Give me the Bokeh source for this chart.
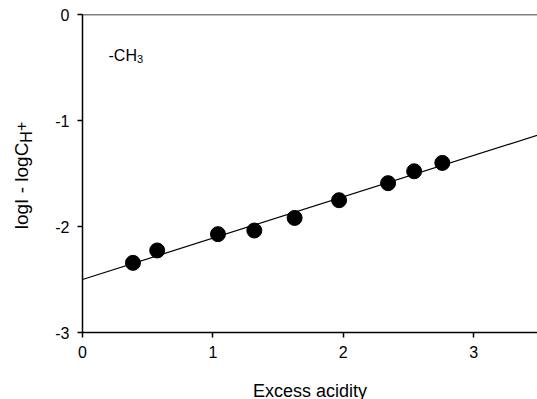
import math
from bokeh.plotting import figure
from bokeh.layouts import row
from bokeh.models import FixedTicker, Span, Label, Range1d
from bokeh.embed import file_html
from bokeh.resources import INLINE

# data
excess_acidity = [0.387, 0.573, 1.039, 1.318, 1.627, 1.968, 2.344, 2.544, 2.760]
log_ratio = [-2.343, -2.226, -2.072, -2.038, -1.919, -1.752, -1.591, -1.479, -1.400]
fit_x = [0.0, 3.5]
fit_y = [-2.5, -1.135]
x_ticks = [0, 1, 2, 3]
y_ticks = [-3, -2, -1, 0]
y_tick_labels = {-3: "-3", -2: "-2", -1: "-1", 0: "0"}

FONT = "Liberation Sans"
LEFT_W = 40

# ---- narrow strip holding the y-axis title ----
t = figure(width=LEFT_W, height=399, x_range=Range1d(0, LEFT_W), y_range=Range1d(399, 0),
           x_axis_type=None, y_axis_type=None, output_backend="svg",
           toolbar_location=None, min_border=0)
t.outline_line_color = None
t.grid.visible = False
t.background_fill_color = "white"
t.border_fill_color = "white"

main_fs, sub_fs = 19, 16
w_main = 4.557 * main_fs
w_h = 0.722 * sub_fs
total = w_main + w_h + 0.584 * sub_fs
start = 175 + total / 2.0
base_x = 21
t.add_layout(Label(x=base_x, y=start, x_units="canvas", y_units="canvas",
                   text="logI - logC", text_font=FONT,
                   text_font_size=f"{main_fs}px", text_color="black", angle=math.pi / 2,
                   text_baseline="alphabetic", text_align="left"))
t.add_layout(Label(x=base_x + 5, y=start - w_main, x_units="canvas", y_units="canvas",
                   text="H", text_font=FONT,
                   text_font_size=f"{sub_fs}px", text_color="black", angle=math.pi / 2,
                   text_baseline="alphabetic", text_align="left"))
t.add_layout(Label(x=base_x - 1, y=start - w_main - w_h, x_units="canvas", y_units="canvas",
                   text="+", text_font=FONT,
                   text_font_size=f"{sub_fs}px", text_color="black", angle=math.pi / 2,
                   text_baseline="alphabetic", text_align="left"))

# ---- main plot ----
p = figure(frame_width=455, frame_height=318,
           x_range=Range1d(0, 3.49), y_range=Range1d(-3, 0),
           output_backend="svg", toolbar_location=None,
           min_border_left=82 - LEFT_W, min_border_right=0,
           min_border_top=14, min_border_bottom=67)
p.outline_line_color = None
p.grid.visible = False
p.background_fill_color = "white"
p.border_fill_color = "white"

for ax in (p.xaxis[0], p.yaxis[0]):
    ax.axis_line_color = "black"
    ax.axis_line_width = 1.5
    ax.major_tick_line_color = "black"
    ax.major_tick_line_width = 1.5
    ax.major_tick_in = 0
    ax.major_tick_out = 5
    ax.minor_tick_line_color = None
    ax.major_label_text_font = FONT
    ax.major_label_text_font_size = "16px"
    ax.major_label_text_color = "black"

p.xaxis[0].ticker = FixedTicker(ticks=x_ticks)
p.yaxis[0].ticker = FixedTicker(ticks=y_ticks)
p.yaxis[0].major_label_overrides = y_tick_labels
p.xaxis[0].major_label_standoff = 8
p.yaxis[0].major_label_standoff = 8

p.xaxis[0].axis_label = "Excess acidity"
p.xaxis[0].axis_label_text_font = FONT
p.xaxis[0].axis_label_text_font_size = "18px"
p.xaxis[0].axis_label_text_font_style = "normal"
p.xaxis[0].axis_label_text_color = "black"
p.xaxis[0].axis_label_standoff = 20

# top border line
p.add_layout(Span(location=0, dimension="width", line_color="black", line_width=1.5))

p.line(fit_x, fit_y, line_color="black", line_width=1.2)
p.scatter(excess_acidity, log_ratio, size=15, marker="circle",
          fill_color="black", line_color="black")

# annotation inside the plot (canvas px of this figure)
cx = 108 - LEFT_W
p.add_layout(Label(x=cx, y=55, x_units="canvas", y_units="canvas", text="-CH",
                   text_font=FONT, text_font_size="16px", text_color="black",
                   text_baseline="alphabetic", text_align="left"))
p.add_layout(Label(x=cx + 1.777 * 16, y=58.5, x_units="canvas", y_units="canvas",
                   text="3", text_font=FONT, text_font_size="11px", text_color="black",
                   text_baseline="alphabetic", text_align="left"))

layout = row(t, p, spacing=0)
open("out.html", "w").write(file_html(layout, INLINE))
